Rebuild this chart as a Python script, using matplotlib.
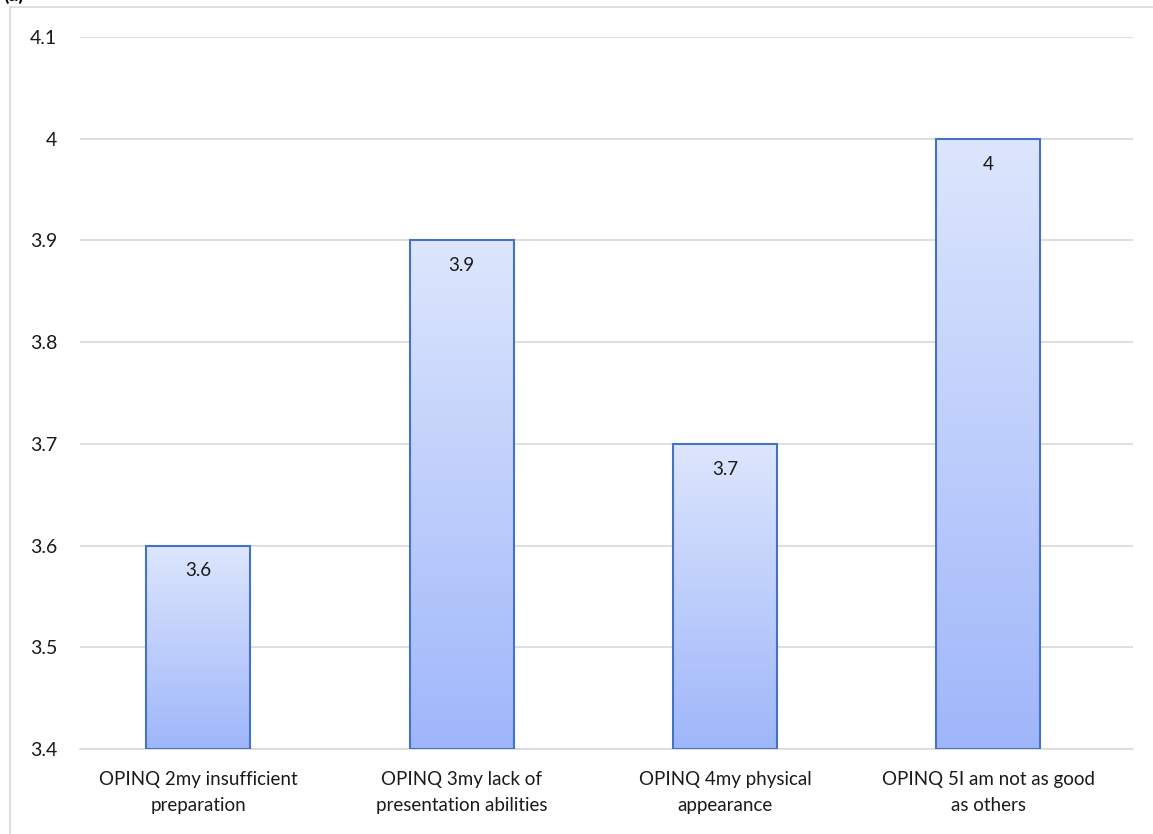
import numpy as np
import matplotlib
matplotlib.use("Agg")
import matplotlib.pyplot as plt
from matplotlib.colors import LinearSegmentedColormap
from matplotlib.patches import Rectangle

plt.rcParams['font.family'] = ['Lato', 'DejaVu Sans']

categories = ["OPINQ 2my insufficient\npreparation",
              "OPINQ 3my lack of\npresentation abilities",
              "OPINQ 4my physical\nappearance",
              "OPINQ 5I am not as good\nas others"]
means = [3.6, 3.9, 3.7, 4.0]
yticks = [3.4, 3.5, 3.6, 3.7, 3.8, 3.9, 4.0, 4.1]
ytick_labels = ["3.4", "3.5", "3.6", "3.7", "3.8", "3.9", "4", "4.1"]

W, H = 1153, 834
fig = plt.figure(figsize=(W / 100, H / 100), dpi=100)
ax = fig.add_axes([80 / W, 1 - 749 / H, 1053 / W, 712 / H])

# outer chart frame
fig.patches.append(Rectangle((10 / W, -0.1), 1.2, 1.1 - 7 / H,
                             transform=fig.transFigure, fill=False,
                             edgecolor='#d9d9d9', linewidth=1.2))
fig.text(3 / W, 1 - 1 / H, "(a)", fontsize=14, fontweight='bold',
         va='baseline', ha='left')

ymin = 3.4
cmap = LinearSegmentedColormap.from_list("bar", ["#9fb6fa", "#dde6fd"])
grad = np.linspace(0, 1, 256).reshape(-1, 1)
width = 0.395
x = np.arange(len(categories))

bars = ax.bar(x, np.array(means) - ymin, width, bottom=ymin, color='none',
              edgecolor='#4472c4', linewidth=1.5, zorder=3)
for b, v in zip(bars, means):
    x0 = b.get_x()
    ax.imshow(grad, cmap=cmap, origin='lower', aspect='auto',
              extent=(x0, x0 + width, ymin, v), zorder=2)
    ax.text(x0 + width / 2, v - 0.025, f"{v:g}", ha='center',
            va='center', fontsize=13.5, color='#1a1a1a', zorder=4)

ax.set_xlim(-0.45, 3.55)
ax.set_ylim(ymin, 4.1)
ax.set_yticks(yticks)
ax.set_yticklabels(ytick_labels, fontsize=14, color='#1a1a1a')
ax.set_xticks(x)
ax.set_xticklabels(categories, fontsize=13.5, color='#1a1a1a', linespacing=1.6)
ax.tick_params(length=0)
ax.tick_params(axis='y', pad=16.5)
ax.tick_params(axis='x', pad=16)
ax.yaxis.grid(True, color='#d9d9d9', linewidth=1.2, zorder=0)
ax.set_axisbelow(True)
for s in ['top', 'right', 'left']:
    ax.spines[s].set_visible(False)
ax.spines['bottom'].set_color('#d9d9d9')
ax.spines['bottom'].set_linewidth(1.2)

fig.savefig("out.png", dpi=100)
